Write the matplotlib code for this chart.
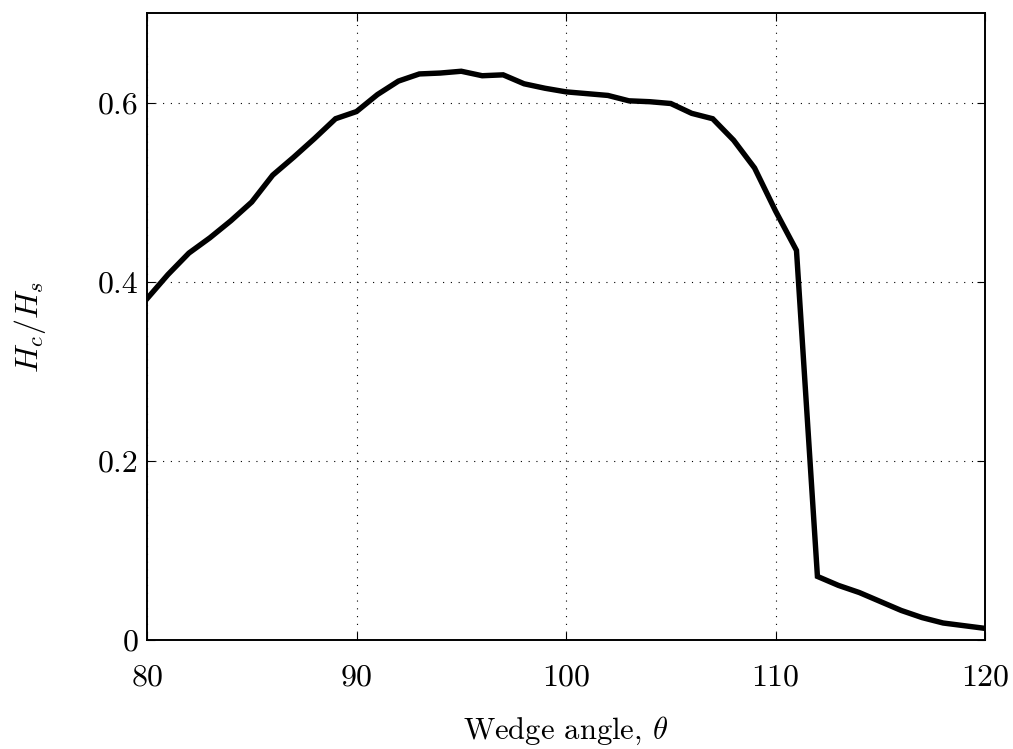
import matplotlib
matplotlib.use('Agg')
import matplotlib.pyplot as plt
from matplotlib.ticker import FuncFormatter

plt.rcParams['font.family'] = 'serif'
plt.rcParams['font.serif'] = ['cmr10', 'DejaVu Serif']
plt.rcParams['mathtext.fontset'] = 'cm'
plt.rcParams['axes.formatter.use_mathtext'] = True

# wedge angle (deg) and critical height ratio
angle = list(range(80, 121))
ratio = [0.381, 0.408, 0.432, 0.449, 0.468, 0.489, 0.519, 0.539, 0.560, 0.582,
         0.590, 0.609, 0.624, 0.632, 0.633, 0.635, 0.630, 0.631, 0.621, 0.616,
         0.612, 0.610, 0.608, 0.602, 0.601, 0.599, 0.588, 0.582, 0.558, 0.527,
         0.479, 0.435, 0.071, 0.061, 0.053, 0.043, 0.033, 0.025, 0.019, 0.016,
         0.013]

xticks = [80, 90, 100, 110, 120]
yticks = [0, 0.2, 0.4, 0.6]

fig = plt.figure(figsize=(10.13, 7.49), dpi=100)
ax = fig.add_axes([0.1451, 0.1455, 0.8273, 0.8371])
ax.plot(angle, ratio, color='k', lw=3.9, solid_joinstyle='miter')

ax.set_xlim(80, 120)
ax.set_ylim(0, 0.7)
ax.set_xticks(xticks)
ax.set_yticks(yticks)
ax.yaxis.set_major_formatter(FuncFormatter(lambda v, p: '0' if v == 0 else '%.1f' % v))
ax.tick_params(direction='in', top=True, right=True, labelsize=23, length=6)
ax.tick_params(axis='x', pad=17)
ax.tick_params(axis='y', pad=6)
ax.grid(True, color='k', linestyle=(0, (1, 6)), linewidth=0.8)
for s in ax.spines.values():
    s.set_linewidth(1.4)

ax.set_xlabel(r'Wedge angle, $\theta$', fontsize=22)
ax.set_ylabel(r'$H_c/H_s$', fontsize=23)
ax.xaxis.set_label_coords(0.5, -0.119)
ax.yaxis.set_label_coords(-0.118, 0.5)

fig.savefig('out.png', dpi=100)
